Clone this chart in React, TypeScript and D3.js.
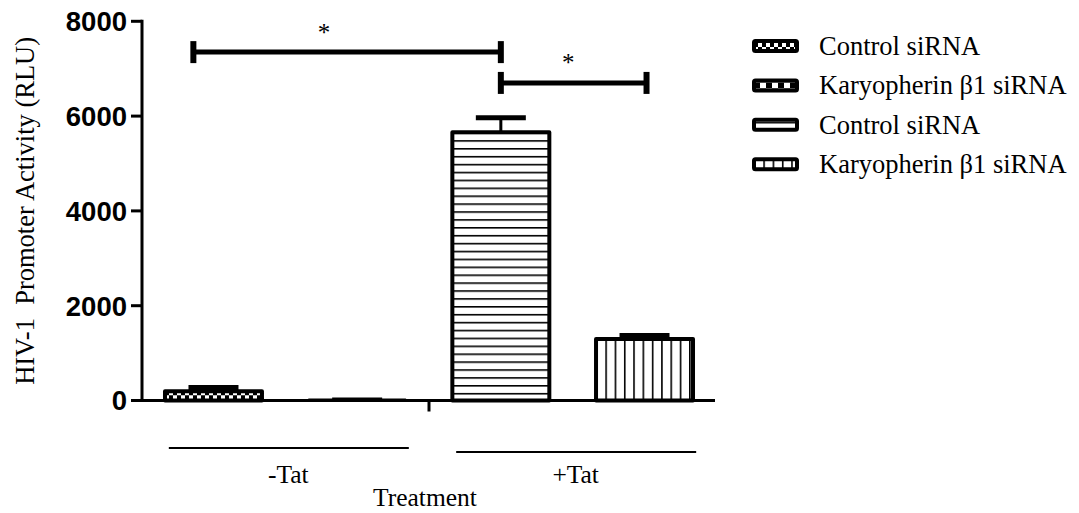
import React from 'react';
import * as d3 from 'd3';

// ---------- data ----------
const groups = ['-Tat', '+Tat'];
const barGroup = ['-Tat', '-Tat', '+Tat', '+Tat'];
const seriesLabels = ['Control siRNA', 'Karyopherin β1 siRNA', 'Control siRNA', 'Karyopherin β1 siRNA'];
const barMeans = [195, 30, 5660, 1300];
const barErrors = [80, 15, 306, 70];
const yTicks = [0, 2000, 4000, 6000, 8000];
const comparisonFrom = [-0.14, 2];
const comparisonTo = [2, 3.014];
const comparisonLevel = [7350, 6700];
const comparisonMarkAt = [0.77, 2.47];
const comparisonMarks = ['*', '*'];
const yTitle = 'HIV-1  Promoter Activity (RLU)';
const xTitle = 'Treatment';

// ---------- layout ----------
const W = 1079;
const H = 513;
const axisX = 142;
const axisRight = 715;
const serif = '"Liberation Serif", "Times New Roman", serif';
const sans = '"Liberation Sans", Arial, sans-serif';
const patternIds = ['patCheckSmall', 'patCheckLarge', 'patHLines', 'patVLines'];

function Pattern({ id, kind, ox, oy }: { id: string; kind: number; ox: number; oy: number }) {
  if (kind === 0) {
    return (
      <pattern id={id} patternUnits="userSpaceOnUse" x={ox} y={oy} width={8} height={8}>
        <rect width={8} height={8} fill="#fff" />
        <rect x={0} y={0} width={4} height={4} fill="#000" />
        <rect x={4} y={4} width={4} height={4} fill="#000" />
      </pattern>
    );
  }
  if (kind === 1) {
    return (
      <pattern id={id} patternUnits="userSpaceOnUse" x={ox} y={oy} width={12} height={12}>
        <rect width={12} height={12} fill="#fff" />
        <rect x={0} y={0} width={6} height={6} fill="#000" />
        <rect x={6} y={6} width={6} height={6} fill="#000" />
      </pattern>
    );
  }
  if (kind === 2) {
    return (
      <pattern id={id} patternUnits="userSpaceOnUse" x={ox} y={oy} width={10} height={7.9}>
        <rect width={10} height={7.9} fill="#fff" />
        <rect x={0} y={0} width={10} height={1.6} fill="#000" />
      </pattern>
    );
  }
  return (
    <pattern id={id} patternUnits="userSpaceOnUse" x={ox} y={oy} width={9.3} height={10}>
      <rect width={9.3} height={10} fill="#fff" />
      <rect x={0} y={0} width={1.6} height={10} fill="#000" />
    </pattern>
  );
}

export default function App() {
  const idx = barMeans.map((_, i) => String(i));
  const x = d3.scaleBand<string>().domain(idx).range([axisX, axisRight + 1]).paddingInner(0.325).paddingOuter(0.16);
  const y = d3.scaleLinear().domain([0, 8000]).range([400.5, 21.3]);
  const bw = x.bandwidth();
  const center = (i: number) => (x(String(i)) as number) + bw / 2;
  const pos = d3.scaleLinear().domain([0, 3]).range([center(0), center(3)]);

  const groupCenters = groups.map((g) => {
    const members = barGroup.map((bg, i) => (bg === g ? center(i) : NaN)).filter((v) => !isNaN(v));
    return d3.mean(members) as number;
  });
  const groupLineY = [448, 452];
  const tickBetween = (center(1) + center(2)) / 2;

  const legendX = 752;
  const legendY0 = 46;
  const legendStep = 39.4;

  return (
    <svg width={W} height={H} style={{ position: 'absolute', left: 0, top: 0, background: '#fff' }}>
      <defs>
        {barMeans.map((m, i) => (
          <Pattern key={'b' + i} id={patternIds[i]} kind={i} ox={x(String(i)) as number} oy={y(m)} />
        ))}
        {barMeans.map((_, i) => (
          <Pattern key={'l' + i} id={patternIds[i] + 'L'} kind={i} ox={legendX + 2} oy={legendY0 + i * legendStep - 3} />
        ))}
      </defs>

      {/* bars */}
      {barMeans.map((m, i) => {
        const bx = x(String(i)) as number;
        return (
          <rect
            key={'bar' + i}
            x={bx}
            y={y(m)}
            width={bw}
            height={Math.max(0.5, y(0) - y(m))}
            fill={`url(#${patternIds[i]})`}
            stroke="#000"
            strokeWidth={i === 1 ? 1.2 : 4}
            strokeLinejoin="round"
          />
        );
      })}

      {/* error bars */}
      {barMeans.map((m, i) => {
        const cx = center(i);
        const top = y(m + barErrors[i]);
        return (
          <g key={'err' + i}>
            <line x1={cx} x2={cx} y1={y(m)} y2={top} stroke="#000" strokeWidth={3} />
            <line x1={cx - 25} x2={cx + 25} y1={top} y2={top} stroke="#000" strokeWidth={i === 1 ? 1.5 : 5} />
          </g>
        );
      })}

      {/* y axis */}
      <line x1={axisX} x2={axisX} y1={y(8000) - 1.5} y2={y(0) + 1.5} stroke="#000" strokeWidth={3} />
      {yTicks.map((t) => (
        <g key={'yt' + t}>
          <line x1={axisX - 11} x2={axisX} y1={y(t)} y2={y(t)} stroke="#000" strokeWidth={3} />
          <text
            x={axisX - 15}
            y={y(t)}
            dy="0.36em"
            textAnchor="end"
            fontFamily={sans}
            fontWeight="bold"
            fontSize={27.5}
            fill="#000"
          >
            {t}
          </text>
        </g>
      ))}

      {/* x axis */}
      <line x1={axisX} x2={axisRight} y1={y(0)} y2={y(0)} stroke="#000" strokeWidth={3} />
      <line x1={tickBetween} x2={tickBetween} y1={y(0)} y2={y(0) + 11} stroke="#000" strokeWidth={3} />

      {/* group lines and labels */}
      {groups.map((g, gi) => (
        <g key={'grp' + g}>
          <line
            x1={groupCenters[gi] + 3.5 - 120}
            x2={groupCenters[gi] + 3.5 + 120}
            y1={groupLineY[gi]}
            y2={groupLineY[gi]}
            stroke="#000"
            strokeWidth={2}
          />
          <text x={groupCenters[gi] + 3} y={483} textAnchor="middle" fontFamily={serif} fontSize={25.5} fill="#000">
            {g}
          </text>
        </g>
      ))}
      <text x={tickBetween - 4} y={506} textAnchor="middle" fontFamily={serif} fontSize={25.5} fill="#000">
        {xTitle}
      </text>

      {/* y title */}
      <text
        transform={`translate(25, ${(y(0) + y(8000)) / 2}) rotate(-90)`}
        textAnchor="middle"
        dy="0.33em"
        fontFamily={serif}
        fontSize={26.5}
        fill="#000"
        style={{ whiteSpace: 'pre' }}
      >
        {yTitle}
      </text>

      {/* significance brackets */}
      {comparisonFrom.map((f, i) => {
        const x1 = pos(f);
        const x2 = pos(comparisonTo[i]);
        const ly = y(comparisonLevel[i]);
        return (
          <g key={'cmp' + i}>
            <line x1={x1} x2={x2} y1={ly} y2={ly} stroke="#000" strokeWidth={5} />
            <line x1={x1} x2={x1} y1={ly - 11} y2={ly + 11} stroke="#000" strokeWidth={6} />
            <line x1={x2} x2={x2} y1={ly - 11} y2={ly + 11} stroke="#000" strokeWidth={6} />
            <text
              x={pos(comparisonMarkAt[i])}
              y={ly - 24}
              dy="0.5em"
              textAnchor="middle"
              fontFamily={serif}
              fontSize={25}
              fill="#000"
            >
              {comparisonMarks[i]}
            </text>
          </g>
        );
      })}

      {/* legend */}
      {seriesLabels.map((s, i) => {
        const cy = legendY0 + i * legendStep;
        return (
          <g key={'leg' + i}>
            <rect
              x={legendX + 2}
              y={cy - 5}
              width={43}
              height={10}
              rx={1.5}
              fill={`url(#${patternIds[i]}L)`}
              stroke="#000"
              strokeWidth={4}
              strokeLinejoin="round"
            />
            <text x={819} y={cy} dy="0.33em" fontFamily={serif} fontSize={26.5} fill="#000">
              {s}
            </text>
          </g>
        );
      })}
    </svg>
  );
}
